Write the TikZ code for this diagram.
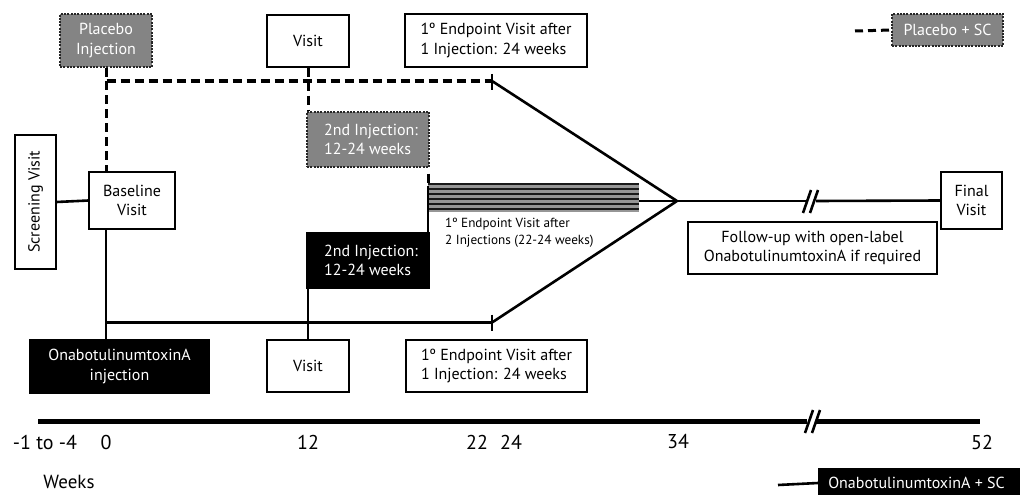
\documentclass[tikz,border=0pt]{standalone}
\usepackage{fontspec}
\setmainfont{PT Sans}
\definecolor{boxgray}{RGB}{132,132,132}
\definecolor{stripegray}{RGB}{150,150,150}
\begin{document}
\begin{tikzpicture}[x=1pt,y=-1pt,
  box/.style={draw=black, line width=1.1pt, align=center, inner sep=0pt, font=\fontsize{16}{19.5}\selectfont},
  wbox/.style={box, fill=white},
  gbox/.style={box, fill=boxgray, text=white, draw=black!85, dash pattern=on 2pt off 1.3pt},
  kbox/.style={box, fill=black, text=white},
  conn/.style={line width=2.6pt},
  dconn/.style={line width=3pt, dash pattern=on 9pt off 5pt},
  tick/.style={line width=2.6pt},
  axislbl/.style={font=\fontsize{20}{24}\selectfont, inner sep=0pt}
]
\useasboundingbox (0,0) rectangle (1020,495);

% boxes
\node[gbox, minimum width=92, minimum height=53] (plac) at (106,40.5) {Placebo\\Injection};
\node[wbox, minimum width=82, minimum height=52] (visT) at (308,41) {Visit};
\node[wbox, minimum width=182, minimum height=53, align=left] (endT) at (496,40.5) {1º Endpoint Visit after\\1 Injection: 24 weeks};
\node[gbox, minimum width=111, minimum height=32] (legG) at (947.5,30) {Placebo + SC};
\node[wbox, rotate=90, minimum width=134, minimum height=41] (scr) at (35.5,202) {Screening Visit};
\node[wbox, minimum width=86, minimum height=57] (base) at (132,200.5) {Baseline\\Visit};
\node[gbox, minimum width=122, minimum height=55, align=left] (injG) at (368,139.5) {\hspace*{6pt}2nd Injection:\\\hspace*{6pt}12-24 weeks};
\node[kbox, minimum width=122, minimum height=55, align=left] (injK) at (368,260.5) {\hspace*{6pt}2nd Injection:\\\hspace*{6pt}12-24 weeks};
\node[kbox, minimum width=179, minimum height=53] (onab) at (119.5,366.5) {OnabotulinumtoxinA\\injection};
\node[wbox, minimum width=82, minimum height=52] (visB) at (308,366) {Visit};
\node[wbox, minimum width=181, minimum height=52, align=left] (endB) at (496.5,366) {1º Endpoint Visit after\\1 Injection: 24 weeks};
\node[wbox, minimum width=61, minimum height=57] (fin) at (971.5,200.5) {Final\\Visit};
\node[wbox, minimum width=249, minimum height=52] (fol) at (812.5,248) {Follow-up with open-label\\OnabotulinumtoxinA if required};
\node[kbox, minimum width=204, minimum height=28, anchor=west] (legK) at (818,483) {\hspace*{-8pt}OnabotulinumtoxinA + SC};
\node[align=left, anchor=west, inner sep=0pt, font=\fontsize{13.2}{16.5}\selectfont] (lbl2) at (445,233) {1º Endpoint Visit after\\2 Injections (22-24 weeks)};

% key coordinates
\coordinate (jt) at (106,81);
\coordinate (tt) at (492,81);
\coordinate (jb) at (106,322.5);
\coordinate (tb) at (492,322.5);
\coordinate (cv) at (677,201);
\coordinate (sR) at (639,201);
\coordinate (sL) at (428,186);
\coordinate (sTop) at (428,183);
\coordinate (brA) at (808,201);
\coordinate (brB) at (816,201);
\coordinate (legD) at (855,31);
\coordinate (legS) at (778,485);

% striped block
\fill[stripegray] (428,183) rectangle (639,212);
\foreach \yy in {184,189,194,199,204,209}
  \fill[black!90] (428,\yy-0.9) rectangle (639,\yy+0.9);

% placebo arm (dashed)
\draw[dconn] (plac.south) -- (jt) -- (tt);
\draw[dconn] (jt) -- (jt |- base.north);
\draw[dconn] (visT.south) -- (visT.south |- injG.north);
\draw[dconn, dash pattern=on 0pt off 6pt on 10pt] (injG.south east) ++(-1,0) coordinate (gse) (gse) -- (gse |- sTop);
\draw[tick] (492,74) -- (492,90);

% treatment arm (solid)
\draw[conn] (scr.south) -- (base.west);
\draw[conn] (jt |- base.south) -- (jt |- onab.north);
\draw[conn] (jb) -- (tb);
\draw[conn] (injK.south -| visB.north) -- (visB.north);
\draw[conn] (sL) -- (sL |- injK.north);
\draw[tick] (492,314.5) -- (492,330.5);

% convergence
\draw[conn] (tt) -- (cv);
\draw[conn] (tb) -- (cv);
\draw[conn] (sR) -- (cv) -- (brA);
\draw[conn] (brB) -- (fin.west);
\draw[conn] (803,213) -- (811,190);
\draw[conn] (810,213) -- (818,190);

% axis
\coordinate (axL) at (38,421.5);
\coordinate (axA) at (807,421.5);
\coordinate (axB) at (816,421.5);
\coordinate (axR) at (980,421.5);
\draw[line width=5.5pt] (axL) -- (axA);
\draw[line width=5.5pt] (axB) -- (axR);
\draw[conn] (805,433) -- (813,410);
\draw[conn] (812,433) -- (820,410);

\node[axislbl] (lm1) at (45,442) {-1 to -4};
\node[axislbl] (l0) at (106,442) {0};
\node[axislbl] (l12) at (308,442) {12};
\node[axislbl] (l22) at (477,442) {22};
\node[axislbl] (l24) at (511,442) {24};
\node[axislbl] (l34) at (678,442) {34};
\node[axislbl] (l52) at (982,442) {52};
\node[axislbl, font=\fontsize{19}{22}\selectfont] (wk) at (69,482) {Weeks};

% legend lines
\draw[line width=3pt, dash pattern=on 8pt off 5pt] (legD) -- (legG.west);
\draw[conn] (legS) -- (legK.west);
\end{tikzpicture}
\end{document}
